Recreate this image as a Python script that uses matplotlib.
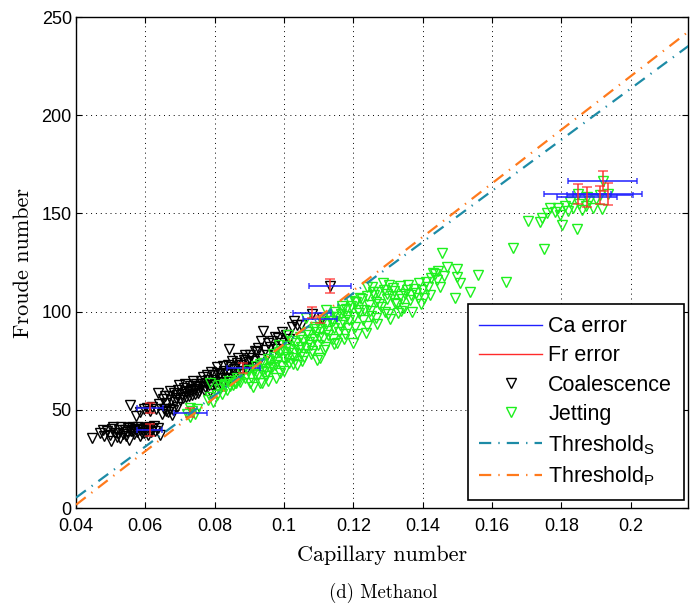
import matplotlib
matplotlib.use("Agg")
import matplotlib.pyplot as plt
from matplotlib.lines import Line2D
import numpy as np

plt.rcParams["font.family"] = ["Liberation Sans", "DejaVu Sans"]
plt.rcParams["mathtext.fontset"] = "custom"
plt.rcParams["mathtext.rm"] = "Liberation Sans"

# Coalescence events: (Capillary number, Froude number)
coal_ca = [
    0.0445, 0.0468, 0.0480, 0.0490, 0.0498, 0.0505, 0.0512, 0.0518, 0.0523, 0.0530,
    0.0535, 0.0540, 0.0546, 0.0550, 0.0554, 0.0558, 0.0562, 0.0566, 0.0570, 0.0575,
    0.0580, 0.0584, 0.0590, 0.0595, 0.0600, 0.0605, 0.0610, 0.0615, 0.0620, 0.0628,
    0.0635, 0.0642, 0.0500, 0.0528, 0.0585,
    0.0508, 0.0520, 0.0545, 0.0565, 0.0590, 0.0608, 0.0625, 0.0478,
    0.0556, 0.0572, 0.0584, 0.0595, 0.0605, 0.0612, 0.0620, 0.0630, 0.0648, 0.0660,
    0.0665, 0.0672, 0.0680, 0.0690, 0.0676, 0.0655,
    0.0636, 0.0650, 0.0660, 0.0668, 0.0675, 0.0682, 0.0688, 0.0695, 0.0700, 0.0705,
    0.0712, 0.0718, 0.0722, 0.0730, 0.0735, 0.0740, 0.0746, 0.0752, 0.0758, 0.0766,
    0.0770, 0.0775, 0.0780, 0.0786, 0.0792, 0.0798, 0.0806, 0.0810, 0.0815, 0.0820,
    0.0826, 0.0830, 0.0838, 0.0841, 0.0845, 0.0850, 0.0856, 0.0862, 0.0868, 0.0874,
    0.0880, 0.0888, 0.0895, 0.0901, 0.0908, 0.0915, 0.0922, 0.0930, 0.0933, 0.0939,
    0.0945, 0.0953, 0.0960, 0.0973, 0.0982, 0.0990, 0.1005, 0.1022, 0.1037, 0.1050,
    0.1080, 0.1110, 0.1132, 0.0790, 0.0760, 0.0715,
    0.0640, 0.0658, 0.0672, 0.0685, 0.0692, 0.0698, 0.0708, 0.0716, 0.0726, 0.0733,
    0.0738, 0.0744, 0.0750, 0.0756, 0.0763, 0.0772, 0.0778, 0.0784, 0.0795, 0.0802,
    0.0808, 0.0818, 0.0824, 0.0834, 0.0840, 0.0848, 0.0858, 0.0865, 0.0872, 0.0885,
    0.0892, 0.0898, 0.0912, 0.0926, 0.0950, 0.0965, 0.0978, 0.0995, 0.1015, 0.1028,
]
coal_fr = [
    35.5, 38.2, 36.5, 39.0, 37.2, 40.1, 38.4, 36.0, 39.6, 41.0,
    37.8, 39.9, 38.6, 40.6, 34.5, 39.2, 41.3, 37.5, 40.0, 38.8,
    41.5, 39.5, 40.3, 38.0, 40.8, 39.1, 41.0, 38.5, 40.2, 39.0,
    40.5, 37.0, 34.0, 35.5, 36.8,
    41.5, 38.0, 36.8, 39.5, 38.2, 37.0, 41.8, 39.5,
    52.4, 47.0, 48.9, 50.3, 50.9, 49.5, 51.5, 50.6, 48.0, 49.2,
    48.9, 50.2, 50.0, 51.4, 47.5, 50.5,
    58.5, 55.5, 53.5, 57.0, 54.8, 58.8, 56.2, 60.0, 55.0, 58.0,
    61.0, 56.5, 59.5, 62.0, 57.8, 60.5, 63.2, 58.5, 61.8, 66.7,
    60.0, 63.5, 65.0, 59.8, 62.5, 67.5, 71.8, 64.0, 68.0, 62.0,
    70.0, 66.0, 73.0, 81.0, 68.5, 75.0, 71.0, 66.5, 76.5, 73.0,
    70.0, 78.0, 74.5, 78.0, 72.0, 80.0, 79.4, 76.0, 85.0, 90.0,
    80.5, 84.0, 82.0, 87.0, 86.6, 84.0, 88.0, 92.0, 93.0, 93.0,
    99.0, 96.7, 113.0, 69.5, 64.5, 63.0,
    53.0, 56.8, 59.5, 54.0, 57.5, 62.5, 55.8, 59.0, 57.0, 60.0,
    64.5, 58.0, 62.2, 59.8, 63.0, 61.5, 67.5, 62.8, 65.2, 63.0,
    69.0, 66.0, 72.5, 68.8, 65.5, 71.8, 69.0, 73.8, 68.0, 75.5,
    71.5, 76.5, 75.0, 81.5, 78.0, 85.0, 81.0, 89.5, 86.0, 95.0,
]

# Jetting events: (Capillary number, Froude number)
jet_ca = [
    0.0720, 0.0730, 0.0735, 0.0742, 0.0748, 0.0728,
    0.0780, 0.0786, 0.0795, 0.0806, 0.0812, 0.0820, 0.0828, 0.0835, 0.0842, 0.0852,
    0.0858, 0.0865, 0.0870, 0.0873, 0.0880, 0.0888, 0.0895, 0.0901, 0.0910, 0.0915,
    0.0920, 0.0930, 0.0935, 0.0940, 0.0948, 0.0955, 0.0960, 0.0968, 0.0975, 0.0988,
    0.0992, 0.1000, 0.1008, 0.1015, 0.1022, 0.1030, 0.1037, 0.1045, 0.1050, 0.1058,
    0.1065, 0.1072, 0.1080, 0.1088, 0.1095, 0.1100, 0.1103, 0.1110, 0.1118, 0.1125,
    0.1132, 0.1140, 0.1148, 0.1152, 0.1160, 0.1168, 0.1175, 0.1182, 0.1190, 0.1198,
    0.1205, 0.1212, 0.1220, 0.1228, 0.1235, 0.1238, 0.1245, 0.1252, 0.1260, 0.1268,
    0.1275, 0.1285, 0.1290, 0.1298, 0.1305, 0.1314, 0.1320, 0.1328, 0.1335, 0.1345,
    0.1354, 0.1362, 0.1370, 0.1380, 0.1390, 0.1395, 0.1405, 0.1410, 0.1414, 0.1430,
    0.1435, 0.1445, 0.1449, 0.1455, 0.1470, 0.1492, 0.1498, 0.1500, 0.1507, 0.1535,
    0.1560, 0.1639, 0.1660,
    0.0815, 0.0830, 0.0845, 0.0860, 0.0786, 0.0936,
    0.1120, 0.1167, 0.1204, 0.1253, 0.1062, 0.1085, 0.1012, 0.0985, 0.1142, 0.1185,
    0.0905, 0.0912, 0.0925, 0.0932, 0.0945, 0.0952, 0.0958, 0.0965, 0.0972, 0.0980,
    0.0985, 0.0995, 0.1002, 0.1010, 0.1018, 0.1025, 0.1033, 0.1040, 0.1048, 0.1055,
    0.1062, 0.1070, 0.1077, 0.1085, 0.1092, 0.1098, 0.1106, 0.1113, 0.1121, 0.1128,
    0.1136, 0.1144, 0.1150, 0.1157, 0.1164, 0.1171, 0.1178, 0.1186, 0.1194, 0.1201,
    0.1208, 0.1216, 0.1224, 0.1231, 0.1240, 0.1248, 0.1256, 0.1264, 0.1272, 0.1280,
    0.1288, 0.1296, 0.1303, 0.1311, 0.1318, 0.1326, 0.1333, 0.1341, 0.1349, 0.1358,
    0.1366, 0.1375, 0.1385, 0.1398, 0.1420, 0.1425, 0.1440, 0.1460,
    0.0955, 0.0978, 0.1000, 0.1025, 0.1052, 0.1078, 0.1115, 0.1145, 0.1172, 0.1210,
    0.1240, 0.1265, 0.1300, 0.1338,
    0.1919, 0.1847, 0.1933, 0.1910, 0.1873, 0.1824, 0.1810, 0.1789, 0.1766, 0.1780,
    0.1757, 0.1743, 0.1737, 0.1703, 0.1803, 0.1844, 0.1750, 0.1860, 0.1890, 0.1916,
    0.1832, 0.1852, 0.1880, 0.1900, 0.1795, 0.1820, 0.1870,
]
jet_fr = [
    48.0, 46.5, 49.5, 47.8, 50.5, 51.0,
    55.0, 56.5, 54.0, 57.5, 60.5, 58.0, 62.0, 60.0, 64.5, 62.6,
    63.8, 66.0, 65.0, 64.0, 68.5, 66.0, 70.5, 63.6, 61.6, 68.0,
    72.5, 63.6, 70.0, 74.0, 67.0, 76.0, 71.5, 78.5, 73.0, 69.0,
    80.0, 76.0, 82.5, 74.0, 85.0, 79.0, 72.8, 87.0, 82.0, 77.0,
    89.5, 84.5, 80.0, 92.0, 75.4, 87.0, 76.4, 94.5, 82.0, 90.0,
    97.5, 86.0, 100.0, 84.0, 93.0, 103.0, 88.5, 98.0, 105.5, 84.0,
    92.0, 101.0, 107.0, 95.5, 89.0, 112.5, 103.5, 98.0, 108.5, 93.5,
    104.0, 114.6, 100.0, 109.0, 96.0, 112.0, 104.5, 99.5, 108.0, 102.0,
    111.0, 106.0, 100.0, 109.5, 114.6, 104.0, 107.0, 115.0, 112.5, 119.7,
    119.0, 120.5, 112.5, 130.0, 122.7, 106.9, 117.6, 121.7, 114.6, 110.0,
    118.6, 115.0, 132.6,
    62.5, 63.0, 62.0, 63.5, 63.6, 63.6,
    100.8, 101.0, 105.0, 112.5, 97.0, 91.0, 88.0, 83.0, 95.0, 91.5,
    66.5, 70.2, 67.8, 73.5, 71.0, 69.2, 74.8, 72.0, 76.8, 74.5,
    79.2, 72.5, 79.5, 77.0, 81.2, 76.5, 83.8, 80.5, 78.2, 85.5,
    81.5, 88.0, 83.0, 86.2, 89.5, 82.8, 91.2, 86.5, 93.8, 88.2,
    95.0, 91.5, 97.2, 89.8, 99.0, 94.5, 101.5, 95.8, 103.0, 97.5,
    104.8, 99.2, 106.5, 101.0, 108.0, 100.5, 110.2, 105.0, 109.8, 102.5,
    111.0, 106.2, 113.5, 107.8, 110.5, 104.0, 112.8, 106.5, 109.2, 113.8,
    108.5, 111.5, 106.8, 110.8, 108.5, 117.0, 116.2, 118.0,
    64.8, 66.2, 70.0, 73.2, 75.0, 78.5, 80.5, 83.5, 86.2, 88.5,
    92.8, 96.5, 98.8, 100.5,
    166.5, 160.0, 160.0, 159.4, 158.5, 155.8, 154.0, 153.0, 152.7, 150.7,
    150.2, 147.6, 145.6, 146.0, 144.0, 142.0, 131.8, 151.7, 153.0, 152.0,
    152.7, 155.0, 156.5, 157.5, 149.0, 151.0, 154.0,
]

# Measurements carrying uncertainty estimates
err_ca = [0.0613, 0.0612, 0.0730, 0.0883, 0.1080, 0.1103, 0.1132,
          0.1919, 0.1847, 0.1873, 0.1910, 0.1933]
err_fr = [51.0, 39.7, 48.4, 71.3, 99.5, 96.0, 113.0,
          166.5, 160.0, 158.5, 159.4, 160.0]
ca_err = [0.0037, 0.0036, 0.0047, 0.0048, 0.0054, 0.0049, 0.0060,
          0.0100, 0.0097, 0.0087, 0.0095, 0.0100]
fr_err = [2.5, 3.0, 2.3, 2.3, 3.0, 2.0, 3.5,
          5.0, 5.0, 5.0, 4.5, 5.5]

# Threshold lines Fr = slope * Ca + intercept
thr_s = (1302.0, -46.8)
thr_p = (1364.0, -52.9)

x_ticks = [0.04, 0.06, 0.08, 0.1, 0.12, 0.14, 0.16, 0.18, 0.2]
x_tick_labels = ["0.04", "0.06", "0.08", "0.1", "0.12", "0.14", "0.16", "0.18", "0.2"]
y_ticks = [0, 50, 100, 150, 200, 250]

teal = "#1d8ba6"
orange = "#ff7a1c"
green = "#1ef01e"
mk = dict(linestyle="none", marker="v", markersize=6.5, markerfacecolor="none",
          markeredgewidth=1.0)
dash = (5.5, 3.2, 0.6, 3.2)

fig = plt.figure(figsize=(6.93, 6.14), dpi=100)
ax = fig.add_axes([0.1097, 0.1726, 0.8831, 0.7997])

ax.plot(coal_ca, coal_fr, markeredgecolor="black", zorder=3, **mk)
ax.plot(jet_ca, jet_fr, markeredgecolor=green, zorder=3, **mk)

ax.errorbar(err_ca, err_fr, xerr=ca_err, fmt="none", ecolor="#2020ff",
            elinewidth=1.3, capsize=2, capthick=1.1, alpha=0.85, zorder=4)
ax.errorbar(err_ca, err_fr, yerr=fr_err, fmt="none", ecolor="#ff2a2a",
            elinewidth=1.3, capsize=3.5, capthick=1.1, alpha=0.8, zorder=4)

ca_line = np.array([0.04, 0.23])
ax.plot(ca_line, thr_s[0] * ca_line + thr_s[1], color=teal, linewidth=1.6,
        dashes=dash, zorder=5)
ax.plot(ca_line, thr_p[0] * ca_line + thr_p[1], color=orange, linewidth=1.6,
        dashes=dash, zorder=5)

ax.set_xlim(0.04, 0.2165)
ax.set_ylim(0, 250)
ax.set_xticks(x_ticks)
ax.set_xticklabels(x_tick_labels)
ax.set_yticks(y_ticks)
ax.tick_params(direction="in", top=True, right=True, labelsize=13, length=4,
               width=0.8)
ax.tick_params(axis="x", pad=7)
ax.tick_params(axis="y", pad=3)
ax.grid(True, linestyle=(0, (1, 4)), color="black", linewidth=0.7)
for s in ax.spines.values():
    s.set_linewidth(1.0)

ax.set_xlabel("Capillary number", family="cmr10", fontsize=16, labelpad=8)
ax.set_ylabel("Froude number", family="cmr10", fontsize=16, labelpad=6)

handles = [
    Line2D([], [], color="#2020ff", linewidth=1.0),
    Line2D([], [], color="#ff2a2a", linewidth=1.0),
    Line2D([], [], markeredgecolor="black", **mk),
    Line2D([], [], markeredgecolor=green, **mk),
    Line2D([], [], color=teal, linewidth=1.6, dashes=dash),
    Line2D([], [], color=orange, linewidth=1.6, dashes=dash),
]
labels = ["Ca error", "Fr error", "Coalescence", "Jetting",
          r"Threshold$_\mathrm{S}$", r"Threshold$_\mathrm{P}$"]
leg = ax.legend(handles, labels, loc="lower right", bbox_to_anchor=(0.9935, 0.016),
                fontsize=15.5, handlelength=2.9, handletextpad=0.3,
                labelspacing=0.38, borderpad=0.55, borderaxespad=0,
                frameon=True, fancybox=False, framealpha=1, edgecolor="black")
leg.get_frame().set_linewidth(1.2)

fig.text(0.553, 0.018, "(d) Methanol", family="cmr10", fontsize=13.5,
         ha="center", va="bottom")

fig.savefig("out.png", dpi=100)
